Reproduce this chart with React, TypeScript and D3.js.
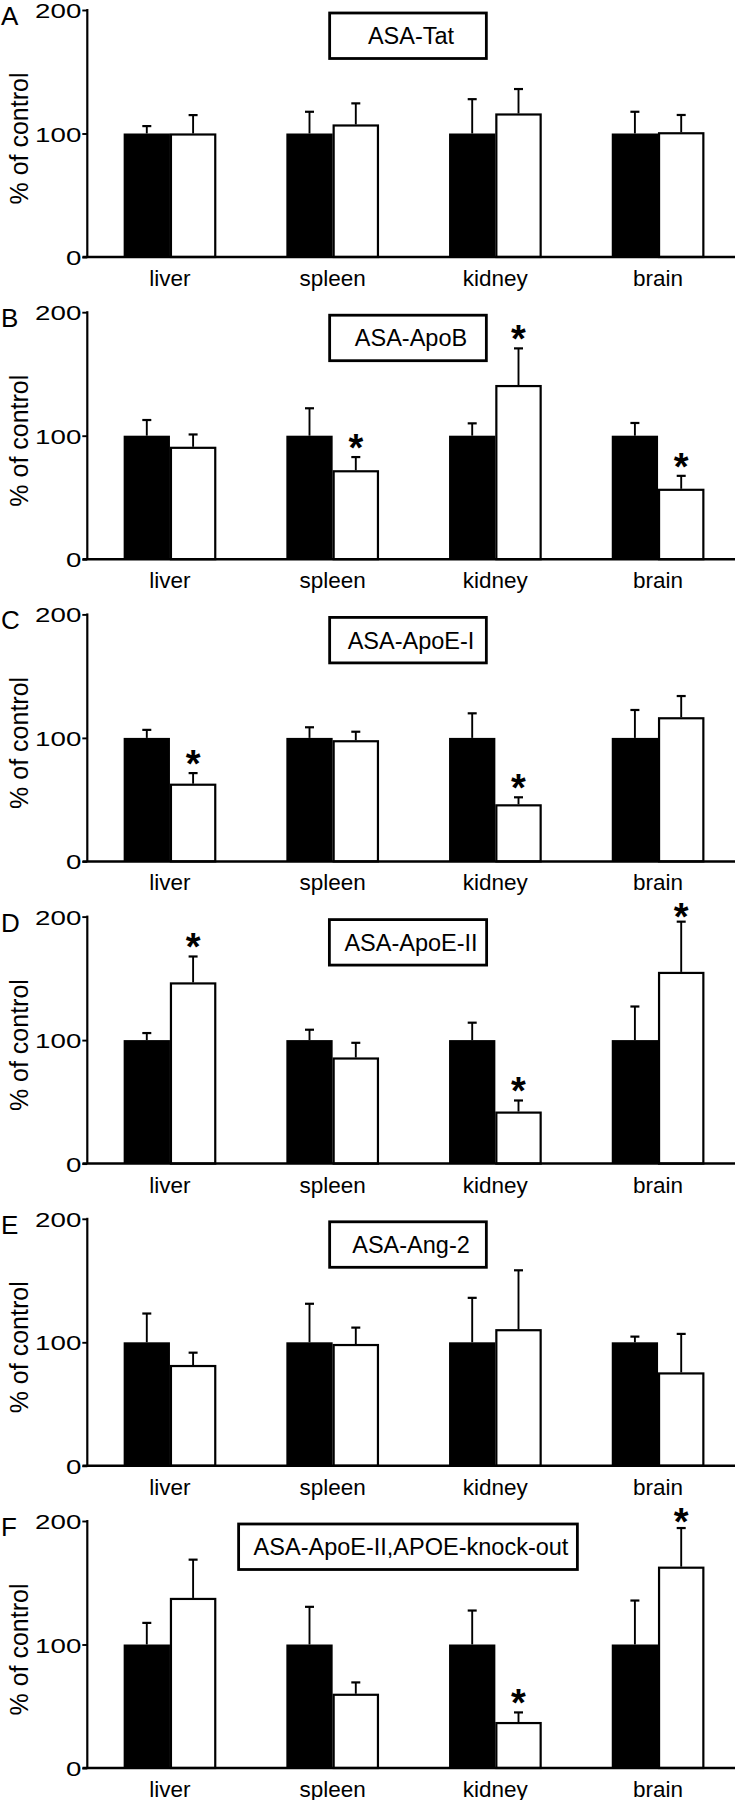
import React, { useEffect, useRef } from 'react';
import * as d3 from 'd3';

const categories = ['liver', 'spleen', 'kidney', 'brain'];
const seriesKeys = ['control', 'treated'];
const panelLetters = ['A', 'B', 'C', 'D', 'E', 'F'];
const panelTitles = ['ASA-Tat', 'ASA-ApoB', 'ASA-ApoE-I', 'ASA-ApoE-II', 'ASA-Ang-2', 'ASA-ApoE-II,APOE-knock-out'];
const yTicks = [0, 100, 200];
const yLabel = '% of control';

const controlMeans = [
  [100, 100, 100, 100],
  [100, 100, 100, 100],
  [100, 100, 100, 100],
  [100, 100, 100, 100],
  [100, 100, 100, 100],
  [100, 100, 100, 100],
];
const controlErrors = [
  [6, 17.6, 27.8, 17.6],
  [12.7, 22.2, 10, 10.3],
  [6.5, 8.6, 19.9, 22.6],
  [5.7, 8.4, 14.1, 27.2],
  [23.3, 31.2, 36, 4.6],
  [17.5, 30.5, 27.5, 35.6],
];
const treatedMeans = [
  [100, 107.3, 116.2, 101],
  [91, 72, 141, 57],
  [62.9, 98.1, 46.2, 116.7],
  [146.7, 85.9, 42.1, 155.2],
  [81.6, 98.6, 110.6, 75.6],
  [137.7, 60.1, 37.2, 163],
];
const treatedErrors = [
  [14.9, 17.1, 19.8, 14],
  [10, 10.7, 29.7, 10.5],
  [8.6, 6.9, 5.7, 17.2],
  [21, 11.9, 9, 40.7],
  [10, 13.3, 47.7, 31.2],
  [31, 9.2, 7.8, 31.3],
];
const significant = [
  [0, 0, 0, 0],
  [0, 1, 1, 1],
  [1, 0, 1, 0],
  [1, 0, 1, 1],
  [0, 0, 0, 0],
  [0, 0, 1, 1],
];

const W = 735;
const H = 1800;
const FONT = '"Liberation Sans", Arial, Helvetica, sans-serif';

export default function App() {
  const ref = useRef<SVGSVGElement | null>(null);

  useEffect(() => {
    const svg = d3.select(ref.current);
    svg.selectAll('*').remove();

    const axisX = 87.3;
    const x = d3.scaleBand<string>().domain(categories).range([88.6, 739.4]).paddingInner(0).paddingOuter(0);
    const inner = d3.scaleBand<string>().domain(seriesKeys).range([0, x.bandwidth()]).paddingInner(0).paddingOuter(0.757);
    const bw = inner.bandwidth();

    panelLetters.forEach((letter, i) => {
      const zero = 257 + 302.2 * i;
      const top = zero - 247;
      const y = d3.scaleLinear().domain([0, 200]).range([zero, top]);
      const g = svg.append('g');

      // title box (drawn first so it sits beneath everything else)
      const boxTop = top + 3;
      const boxH = 45.5;
      const cx = 408;
      const boxRect = g.append('rect');
      const t = g.append('text')
        .attr('x', cx + 3)
        .attr('y', boxTop + boxH / 2 + 8.4)
        .attr('text-anchor', 'middle')
        .attr('font-family', FONT)
        .attr('font-size', 23.5)
        .text(panelTitles[i]);
      const tw = (t.node() as SVGTextElement).getComputedTextLength();
      const bwBox = Math.max(156.7, tw + 24);
      boxRect
        .attr('x', cx - bwBox / 2)
        .attr('y', boxTop)
        .attr('width', bwBox)
        .attr('height', boxH)
        .attr('fill', '#fff')
        .attr('stroke', '#000')
        .attr('stroke-width', 2.8);

      // bars
      categories.forEach((cat, j) => {
        const x0 = (x(cat) as number) + (inner('control') as number);
        const x1 = (x(cat) as number) + (inner('treated') as number);
        const cm = controlMeans[i][j];
        const tm = treatedMeans[i][j];
        g.append('rect')
          .attr('x', x0).attr('y', y(cm)).attr('width', bw).attr('height', zero - y(cm))
          .attr('fill', '#000');
        g.append('rect')
          .attr('x', x1 + 1).attr('y', y(tm) + 1).attr('width', bw - 2).attr('height', zero - y(tm) - 1)
          .attr('fill', '#fff').attr('stroke', '#000').attr('stroke-width', 2.2);

        const drawErr = (cxe: number, m: number, e: number) => {
          g.append('line').attr('x1', cxe).attr('x2', cxe).attr('y1', y(m)).attr('y2', y(m + e))
            .attr('stroke', '#000').attr('stroke-width', 1.9);
          g.append('line').attr('x1', cxe - 4.5).attr('x2', cxe + 4.5).attr('y1', y(m + e)).attr('y2', y(m + e))
            .attr('stroke', '#000').attr('stroke-width', 2.2);
        };
        drawErr(x0 + bw / 2, cm, controlErrors[i][j]);
        drawErr(x1 + bw / 2, tm, treatedErrors[i][j]);

        if (significant[i][j]) {
          const errTop = y(tm + treatedErrors[i][j]);
          let bottom = errTop - 10;
          const fs = 38;
          const h = 14;
          if (bottom - h < top - 14) bottom = top - 14 + h;
          g.append('text')
            .attr('x', x1 + bw / 2)
            .attr('y', bottom + 0.36 * fs)
            .attr('text-anchor', 'middle')
            .attr('font-family', FONT)
            .attr('font-weight', 'bold')
            .attr('font-size', fs)
            .text('*');
        }
      });

      // y axis
      const sx = 1.32;
      const yAxis = d3.axisLeft(y).tickValues(yTicks).tickSize(5).tickSizeOuter(0).tickFormat(d3.format('d'));
      const ya = g.append('g').attr('transform', `translate(${axisX},0)`).call(yAxis);
      ya.select('.domain').remove();
      ya.selectAll('.tick line').attr('stroke', '#000').attr('stroke-width', 1.9);
      ya.selectAll('.tick text')
        .attr('x', -6 / sx)
        .attr('dy', '0.36em')
        .attr('transform', `scale(${sx},1)`)
        .attr('font-family', FONT)
        .attr('font-size', 21)
        .attr('fill', '#000');
      g.append('line').attr('x1', axisX).attr('x2', axisX).attr('y1', y(200) - 1).attr('y2', zero)
        .attr('stroke', '#000').attr('stroke-width', 2.2);

      // x axis
      const xAxis = d3.axisBottom(x).tickSize(0).tickSizeOuter(0).tickPadding(0);
      const xa = g.append('g').attr('transform', `translate(0,${zero})`).call(xAxis);
      xa.select('.domain').remove();
      xa.selectAll('.tick text')
        .attr('y', 29)
        .attr('dy', null)
        .attr('font-family', FONT)
        .attr('font-size', 22.5)
        .attr('fill', '#000');
      g.append('line').attr('x1', 82.5).attr('x2', W).attr('y1', zero).attr('y2', zero)
        .attr('stroke', '#000').attr('stroke-width', 2.5);

      // y label
      g.append('text')
        .attr('transform', `translate(28.3,${(top + zero) / 2 + 5}) rotate(-90)`)
        .attr('text-anchor', 'middle')
        .attr('font-family', FONT)
        .attr('font-size', 25)
        .text(yLabel);

      // panel letter
      g.append('text')
        .attr('x', 1)
        .attr('y', top + 15)
        .attr('font-family', FONT)
        .attr('font-size', 26)
        .text(letter);
    });
  }, []);

  return (
    <svg
      ref={ref}
      width={W}
      height={H}
      style={{ position: 'absolute', left: 0, top: 0, background: '#fff' }}
    />
  );
}
